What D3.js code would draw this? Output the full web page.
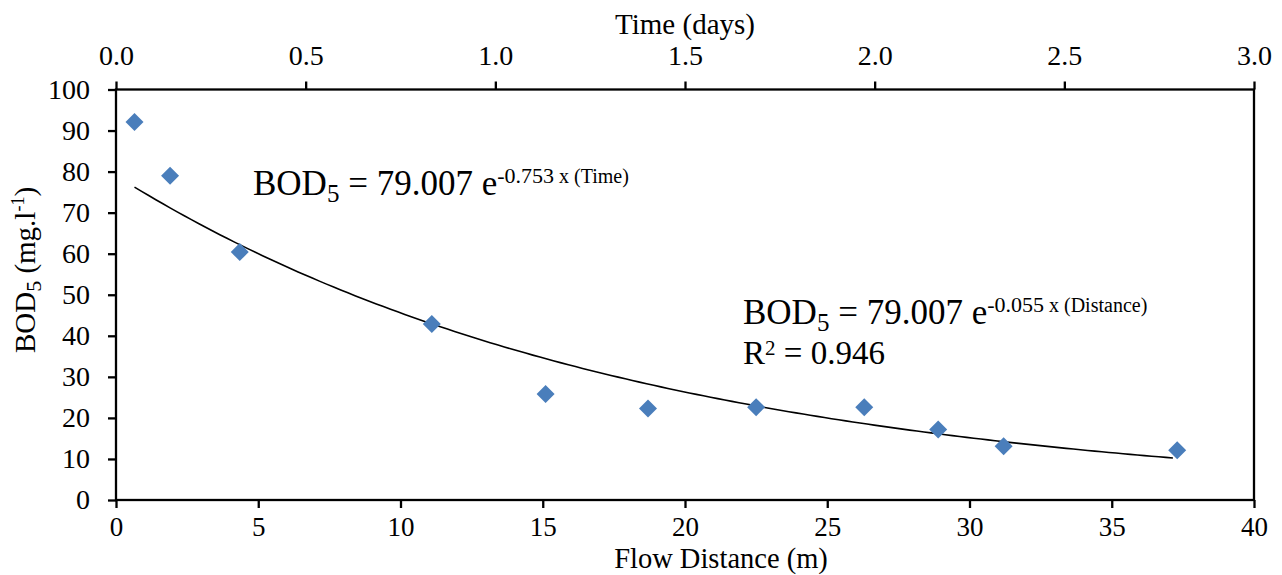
<!DOCTYPE html>
<html>
<head>
<meta charset="utf-8">
<script src="https://cdn.jsdelivr.net/npm/d3@7"></script>
<style>
  body { margin: 0; background: #fff; }
  svg, svg text, svg tspan { font-family: "Liberation Serif", "Times New Roman", serif; fill: #000; }
  .axis path { display: none; }
  .axis line { stroke: #000; stroke-width: 2.3; }
</style>
</head>
<body>
<svg width="1282" height="575"></svg>
<script>
// flow distance (m) and BOD5 (mg/l)
let distance = [0.65, 1.9, 4.35, 11.1, 15.1, 18.7, 22.5, 26.3, 28.9, 31.2, 37.3];
let bod = [92.1, 79, 60.4, 42.9, 25.8, 22.3, 22.6, 22.6, 17.2, 13.1, 12.1];

let distTicks = [0, 5, 10, 15, 20, 25, 30, 35, 40];
let timeTicks = [0, 0.5, 1, 1.5, 2, 2.5, 3];
let bodTicks = [0, 10, 20, 30, 40, 50, 60, 70, 80, 90, 100];

// exponential trend shown on the chart
let trendA = 79.007;
let trendK = 0.055;

const serif = '"Liberation Serif", "Times New Roman", serif';

let svg = d3.select("svg");

let margin = { top: 89.5, right: 28, bottom: 75, left: 116 },
    width = +svg.attr("width") - margin.left - margin.right,
    height = +svg.attr("height") - margin.top - margin.bottom;

let x = d3.scaleLinear().domain([0, 40]).range([0, width]);
let xTime = d3.scaleLinear().domain([0, 3]).range([0, width]);
let y = d3.scaleLinear().domain([0, 100]).range([height, 0]);

let g = svg.append("g")
    .attr("transform", "translate(" + margin.left + "," + margin.top + ")");

// plot frame
g.append("rect")
    .attr("width", width)
    .attr("height", height)
    .attr("fill", "none")
    .attr("stroke", "#000")
    .attr("stroke-width", 2.3);

function styleTicks(sel, size) {
    sel.attr("font-family", serif)
        .selectAll("text")
        .style("font-family", serif)
        .style("font-size", size || "28px");
}

g.append("g")
    .classed("axis", true)
    .attr("transform", "translate(0," + height + ")")
    .call(d3.axisBottom(x).tickValues(distTicks).tickSize(8).tickPadding(9))
    .call(styleTicks, "27px");

g.append("g")
    .classed("axis", true)
    .call(d3.axisTop(xTime).tickValues(timeTicks).tickFormat(d3.format(".1f")).tickSize(8).tickPadding(17))
    .call(styleTicks);

g.append("g")
    .classed("axis", true)
    .call(d3.axisLeft(y).tickValues(bodTicks).tickSize(8).tickPadding(18))
    .call(styleTicks);

// trend line over the sampled distance range
let xs = d3.range(d3.min(distance), d3.max(distance) + 0.01, 0.25);
g.append("path")
    .datum(xs)
    .attr("fill", "none")
    .attr("stroke", "#000")
    .attr("stroke-width", 1.6)
    .attr("d", d3.line()
        .x(d => x(d))
        .y(d => y(trendA * Math.exp(-trendK * d))));

// diamond markers
g.selectAll(".pt")
    .data(distance)
    .enter()
    .append("path")
    .classed("pt", true)
    .attr("transform", (d, i) => "translate(" + x(d) + "," + y(bod[i]) + ")")
    .attr("d", "M0,-9L9,0L0,9L-9,0Z")
    .attr("fill", "#4a7ebb");

// axis titles
svg.append("text")
    .attr("x", 685)
    .attr("y", 34)
    .attr("text-anchor", "middle")
    .style("font-family", serif)
    .style("font-size", "29px")
    .text("Time (days)");

svg.append("text")
    .attr("x", 721)
    .attr("y", 568)
    .attr("text-anchor", "middle")
    .style("font-family", serif)
    .style("font-size", "28.5px")
    .text("Flow Distance (m)");

let yt = svg.append("text")
    .attr("transform", "translate(35,270) rotate(-90)")
    .attr("text-anchor", "middle")
    .style("font-family", serif)
    .style("font-size", "29px");
yt.append("tspan").text("BOD");
yt.append("tspan").attr("dy", 6).style("font-size", "22px").text("5");
yt.append("tspan").attr("dy", -6).text(" (mg.l");
yt.append("tspan").attr("dy", -11).style("font-size", "18px").text("-1");
yt.append("tspan").attr("dy", 11).text(")");

// equations
function equation(px, py, coef, label) {
    let t = svg.append("text")
        .attr("x", px)
        .attr("y", py)
        .style("font-family", serif)
        .style("font-size", "35px");
    t.append("tspan").text("BOD");
    t.append("tspan").attr("dy", 7).style("font-size", "25px").text("5");
    t.append("tspan").attr("dy", -7).text(" = 79.007 e");
    t.append("tspan").attr("dy", -12).style("font-size", "22px").text(coef);
    t.append("tspan").style("font-size", "20px").text(" x (" + label + ")");
}
equation(253, 195, "-0.753", "Time");
equation(743, 324, "-0.055", "Distance");

let r2 = svg.append("text")
    .attr("x", 743)
    .attr("y", 364)
    .style("font-family", serif)
    .style("font-size", "33px");
r2.append("tspan").text("R");
r2.append("tspan").attr("dy", -9).style("font-size", "21px").text("2");
r2.append("tspan").attr("dy", 9).text(" = 0.946");
</script>
</body>
</html>
